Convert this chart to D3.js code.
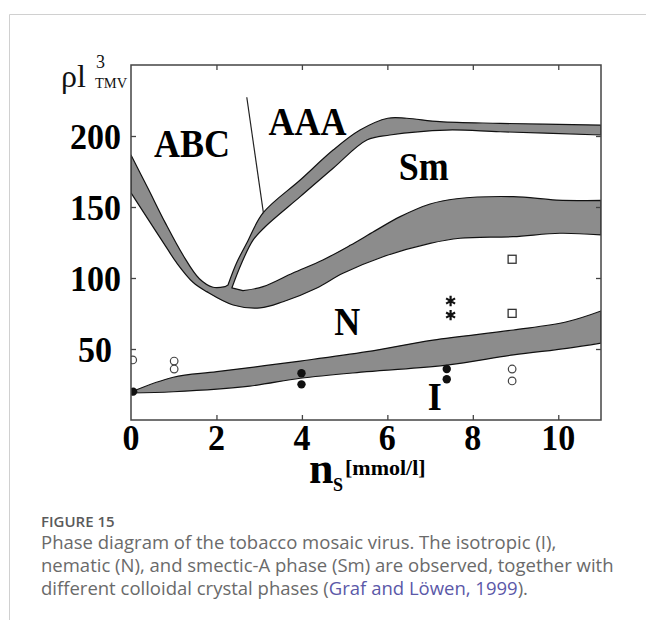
<!DOCTYPE html>
<html>
<head>
<meta charset="utf-8">
<script src="https://cdn.jsdelivr.net/npm/d3@7"></script>
<style>
  body { margin: 0; background: #fff; }
  svg { display: block; }
</style>
</head>
<body>
<svg id="chart" width="646" height="620"></svg>
<script>
// axis ticks
var xTicks = [0, 2, 4, 6, 8, 10];
var yTicks = [50, 100, 150, 200];

// ABC / N boundary, descending from the y axis (upper edge)
var band1Upper = [[0, 186.6], [0.4, 163], [0.8, 139], [1.22, 116], [1.6, 99.5], [1.92, 93.5], [2.2, 93.9]];
// ABC-Sm / AAA-Sm boundary (upper edge, then lower edge coming back)
var band2Upper = [[2.27, 95.1], [2.47, 110.6], [2.71, 124.6], [3.09, 145.8], [3.96, 169], [4.73, 190.1],
  [5.36, 204.2], [6.01, 212.5], [6.45, 212.5], [7.23, 210.1], [8.64, 208.9], [11, 207.7]];
var band2Lower = [[11, 200.7], [8.64, 203], [7.39, 204.2], [6.06, 200.7], [5.52, 197.2], [4.73, 177.3],
  [3.96, 157.3], [3.14, 136.1], [2.86, 126.8], [2.59, 110.6], [2.36, 93]];
// Sm / N boundary (top edge, then bottom edge running back into the ABC/N band)
var band3Top = [[2.62, 91.1], [3.09, 93.9], [3.79, 103.5], [4.49, 112.7], [5.13, 123], [5.7, 133],
  [6.3, 143.2], [7, 152.1], [7.62, 155.8], [8.95, 157.3], [9.96, 154.9], [11, 154.6]];
var band3Bottom = [[11, 130.3], [10.04, 131.5], [8.94, 129.1], [7.7, 128], [7, 124.4], [5.9, 115],
  [4.96, 103.3], [4.35, 93], [3.56, 83.3], [3.02, 78.9], [2.39, 81], [1.77, 90.4], [1.45, 97],
  [1.07, 110.6], [0.84, 121], [0.44, 139.5], [0, 159.9]];
// I / N band
var band4Top = [[0, 19.7], [0.99, 30.1], [2.01, 34], [3.96, 41.5], [5.52, 48.1], [7.07, 56.3],
  [8.95, 63.4], [10.2, 69.2], [11, 76.8]];
var band4Bottom = [[11, 54.2], [10.2, 50.5], [8.95, 45.8], [7.39, 38.7], [5.52, 34], [3.96, 29.4],
  [2.78, 23.9], [0.99, 19.9], [0, 19]];
// ABC / AAA separating line
var abcAaaLine = [[2.71, 227.3], [3.1, 145.6]];

// measured points
var filledPts = [[0.05, 20], [3.99, 32.9], [3.99, 25.1], [7.39, 35.9], [7.39, 28.7]];
var openPts = [[0.04, 42.3], [1.01, 41.5], [1.01, 35.9], [8.92, 35.9], [8.92, 27.5]];
var starPts = [[7.48, 83.8], [7.48, 73.9]];
var squarePts = [[8.92, 75.1], [8.92, 113.2]];

// phase names
var phaseNames = ["ABC", "AAA", "Sm", "N", "I"];
var phaseX = [1.43, 4.13, 6.85, 5.06, 7.11];
var phaseY = [185.5, 201, 169, 60, 7];

var captionTitle = "FIGURE 15";
var captionLines = [
  "Phase diagram of the tobacco mosaic virus. The isotropic (I),",
  "nematic (N), and smectic-A phase (Sm) are observed, together with",
  "different colloidal crystal phases ("
];
var captionRef = "Graf and Löwen, 1999";

var svg = d3.select("#chart");
var serif = "'Liberation Serif', 'Times New Roman', serif";

// card border
svg.append("path")
  .attr("d", "M9.5,620 V14.5 H646")
  .attr("fill", "none")
  .attr("stroke", "#d0d0d0")
  .attr("stroke-width", 1);

var x = d3.scaleLinear().domain([0, 11]).range([131, 601]);
var y = d3.scaleLinear().domain([0, 250]).range([420, 65]);

svg.append("clipPath").attr("id", "plotclip")
  .append("rect")
  .attr("x", x(0)).attr("y", y(250))
  .attr("width", x(11) - x(0)).attr("height", y(0) - y(250));

var plot = svg.append("g").attr("clip-path", "url(#plotclip)");

var edge = d3.line()
  .x(function(d) { return x(d[0]); })
  .y(function(d) { return y(d[1]); })
  .curve(d3.curveCatmullRom.alpha(0.5));

function shape(edges) {
  return edges.map(function(e, i) {
    var p = edge(e);
    return i ? "L" + p.slice(1) : p;
  }).join("") + "Z";
}

plot.append("path")
  .attr("d", shape([band1Upper, band2Upper, band2Lower, band3Top, band3Bottom]))
  .attr("fill", "#8c8c8c")
  .attr("stroke", "#111")
  .attr("stroke-width", 1.2)
  .attr("stroke-linejoin", "round");

plot.append("path")
  .attr("d", shape([band4Top, band4Bottom]))
  .attr("fill", "#8c8c8c")
  .attr("stroke", "#111")
  .attr("stroke-width", 1.2)
  .attr("stroke-linejoin", "round");

plot.append("path")
  .attr("d", d3.line().x(function(d) { return x(d[0]); }).y(function(d) { return y(d[1]); })(abcAaaLine))
  .attr("stroke", "#222")
  .attr("stroke-width", 1.2)
  .attr("fill", "none");

// markers
plot.selectAll(".open").data(openPts).enter().append("circle")
  .attr("cx", function(d) { return x(d[0]); })
  .attr("cy", function(d) { return y(d[1]); })
  .attr("r", 3.8)
  .attr("fill", "#fff")
  .attr("stroke", "#444")
  .attr("stroke-width", 1.2);

plot.selectAll(".filled").data(filledPts).enter().append("circle")
  .attr("cx", function(d) { return x(d[0]); })
  .attr("cy", function(d) { return y(d[1]); })
  .attr("r", 4.2)
  .attr("fill", "#111");

plot.selectAll(".star").data(starPts).enter().append("path")
  .attr("d", d3.symbol(d3.symbolAsterisk, 75))
  .attr("transform", function(d) { return "translate(" + x(d[0]) + "," + y(d[1]) + ")"; })
  .attr("fill", "none")
  .attr("stroke", "#111")
  .attr("stroke-width", 2.2);

plot.selectAll(".square").data(squarePts).enter().append("rect")
  .attr("x", function(d) { return x(d[0]) - 4; })
  .attr("y", function(d) { return y(d[1]) - 4; })
  .attr("width", 8).attr("height", 8)
  .attr("fill", "#fff")
  .attr("stroke", "#333")
  .attr("stroke-width", 1.3);

// axes, ticks pointing inward
function strip(g) {
  g.select(".domain").remove();
  g.selectAll("text").remove();
  g.selectAll("line").attr("stroke", "#444").attr("stroke-width", 1.3);
}
svg.append("g").attr("transform", "translate(0," + y(0) + ")")
  .call(d3.axisBottom(x).tickValues(xTicks.slice(1)).tickSize(-5)).call(strip);
svg.append("g").attr("transform", "translate(0," + y(250) + ")")
  .call(d3.axisTop(x).tickValues(xTicks.slice(1)).tickSize(-5)).call(strip);
svg.append("g").attr("transform", "translate(" + x(0) + ",0)")
  .call(d3.axisLeft(y).tickValues(yTicks).tickSize(-5)).call(strip);
svg.append("g").attr("transform", "translate(" + x(11) + ",0)")
  .call(d3.axisRight(y).tickValues(yTicks).tickSize(-5)).call(strip);

svg.append("rect")
  .attr("x", x(0)).attr("y", y(250))
  .attr("width", x(11) - x(0)).attr("height", y(0) - y(250))
  .attr("fill", "none")
  .attr("stroke", "#444")
  .attr("stroke-width", 1.5);

// tick labels (bold, slightly tall serif)
svg.selectAll(".xlab").data(xTicks).enter().append("text")
  .attr("transform", function(d) { return "translate(" + x(d) + ",450) scale(1,1.08)"; })
  .attr("text-anchor", "middle")
  .attr("font-family", serif).attr("font-weight", "bold").attr("font-size", 34)
  .attr("fill", "#000")
  .text(function(d) { return d; });

svg.selectAll(".ylab").data(yTicks).enter().append("text")
  .attr("transform", function(d) {
    return "translate(" + (d === 50 ? 112 : 121) + "," + (y(d) + 13) + ") scale(1,1.08)";
  })
  .attr("text-anchor", "end")
  .attr("font-family", serif).attr("font-weight", "bold").attr("font-size", 34)
  .attr("fill", "#000")
  .text(function(d) { return d; });

// phase labels
svg.selectAll(".phase").data(phaseNames).enter().append("text")
  .attr("transform", function(d, i) {
    return "translate(" + x(phaseX[i]) + "," + y(phaseY[i]) + ") scale(1,1.1)";
  })
  .attr("text-anchor", "middle")
  .attr("font-family", serif).attr("font-weight", "bold").attr("font-size", 36)
  .attr("fill", "#000")
  .text(function(d) { return d; });

// y axis title: rho l^3 with TMV subscript
svg.append("text").attr("x", 61).attr("y", 87).attr("font-family", serif)
  .attr("font-size", 32).attr("fill", "#111").text("ρl");
svg.append("text").attr("x", 96).attr("y", 68).attr("font-family", serif)
  .attr("font-size", 18).attr("fill", "#111").text("3");
svg.append("text").attr("x", 95).attr("y", 88).attr("font-family", serif)
  .attr("font-size", 14.5).attr("fill", "#111").text("TMV");

// x axis title: n_S [mmol/l]
svg.append("text").attr("x", 309).attr("y", 483).attr("font-family", serif)
  .attr("font-weight", "bold").attr("font-size", 44).attr("fill", "#000").text("n");
svg.append("text").attr("x", 333).attr("y", 491).attr("font-family", serif)
  .attr("font-weight", "bold").attr("font-size", 18).attr("fill", "#000").text("S");
svg.append("text").attr("x", 345).attr("y", 475).attr("font-family", serif)
  .attr("font-weight", "bold").attr("font-size", 22).attr("fill", "#000").text("[mmol/l]");

// caption
var sans = "'Open Sans', Lato, sans-serif";
svg.append("text").attr("x", 41).attr("y", 527)
  .attr("font-family", sans).attr("font-weight", 600).attr("font-size", 15)
  .attr("fill", "#5a5a5a").text(captionTitle);

var cap = svg.append("text")
  .attr("font-family", sans).attr("font-size", 18.5).attr("fill", "#6a6a6a");
captionLines.forEach(function(line, i) {
  cap.append("tspan").attr("x", 41).attr("y", 549 + i * 23).text(line);
});
cap.append("tspan").attr("fill", "#5b58a8").text(captionRef);
cap.append("tspan").text(").");
</script>
</body>
</html>
